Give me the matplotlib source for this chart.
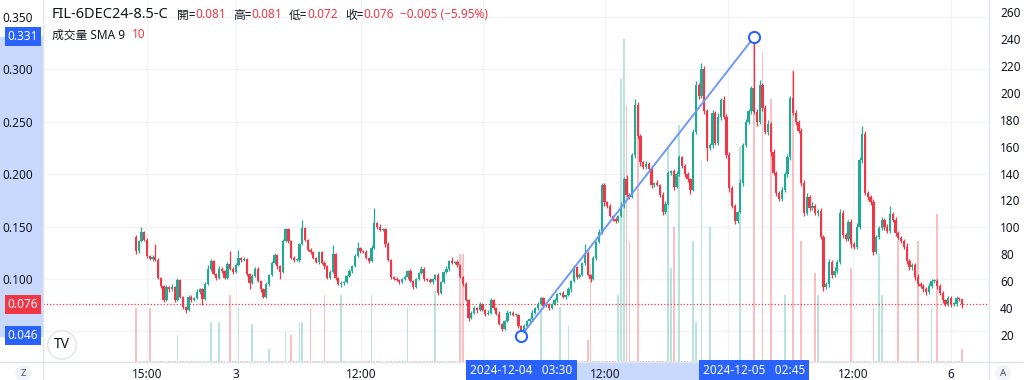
import numpy as np
import matplotlib.pyplot as plt
from matplotlib.lines import Line2D
from matplotlib.patches import Rectangle
from matplotlib.transforms import blended_transform_factory

plt.rcParams['font.family'] = ['Noto Sans', 'Noto Sans CJK TC', 'DejaVu Sans']

# ---- data (prices in thousandths) ----
symbol = 'FIL-6DEC24-8.5-C'
change_text = '\u22120.005 (\u22125.95%)'
vol_title = '成交量 SMA 9'
vol_sma = '10'
range_dates = ['2024-12-04   03:30', '2024-12-05   02:45']
time_labels = ['15:00', '3', '12:00', '', '12:00', '', '12:00', '6']
price_ticks = [0.05, 0.10, 0.15, 0.20, 0.25, 0.30, 0.35]
vol_ticks = [20, 40, 60, 80, 100, 120, 140, 160, 180, 200, 220, 240, 260]

first_open = 140
closes = [
    # 2 Dec afternoon -> 3 Dec
    127, 136, 145, 137, 122, 119, 121, 118, 101, 93,
    80, 92, 90, 92, 80, 99, 83, 73, 70, 83,
    80, 82, 88, 90, 81, 95, 110, 117, 105,
    101, 110, 108, 101, 114, 110, 107, 113, 120, 118,
    119, 105, 96, 103, 110, 98, 90, 83, 95, 104,
    115, 123, 112, 107, 136, 148, 136, 120, 118,
    118, 133, 149, 137, 128, 126, 120, 116, 126,
    115, 112, 101, 107, 124, 101, 95, 96,
    # 3 Dec -> 4 Dec
    97, 103, 108, 112, 122, 130, 127, 126, 120, 117,
    130, 153, 150, 147, 148, 133, 118, 102, 100, 99,
    97, 100, 102, 108, 98, 92, 100, 106, 110, 100,
    99, 97, 100, 104, 87, 97, 107, 110, 117, 115,
    116, 113, 102, 95, 80, 63, 68, 72, 70, 76,
    70, 67, 68, 80, 72, 67, 57, 52, 60, 68,
    68, 66, 66, 55, 50, 55, 60, 62, 68, 72,
    76, 82,
    # 4 Dec
    74, 76, 72, 76, 80, 86, 87, 83, 85, 90,
    98, 111, 102, 104, 115, 125, 104, 100, 120, 135,
    145, 190, 173, 170, 160, 157, 155, 160, 170, 195,
    180, 178, 218, 266, 236, 212, 207, 210, 205, 190,
    192, 190, 180, 164, 172, 201, 203, 188, 200, 216,
    208, 200, 195, 185, 240, 285, 275, 300, 260, 225,
    228, 258, 230, 255, 271, 255, 218, 187, 170, 155,
    164, 192, 228,
    # 5 Dec
    250, 260, 282, 259, 250, 285, 263, 240, 248, 221,
    201, 182, 176, 185, 200, 216, 273, 258, 250, 241,
    192, 163, 178, 168, 170, 163, 165, 140, 92, 95,
    116, 104, 108, 116, 163, 142, 138, 154, 133, 131,
    150, 214, 238, 182, 178, 173, 126, 140, 149, 156,
    150, 146, 162, 156, 144, 139, 136, 131, 117, 111,
    113, 102, 95, 93, 90, 88, 93, 98, 98, 93,
    87, 80, 76, 82, 76, 76, 82, 81, 76,
]
wick_up = [
    2, 1, 5, 1, 2, 1, 2, 12, 2, 1,
    1, 2, 1, 3, 1, 2, 1, 1, 1, 2,
    2, 1, 2, 1, 1, 2, 3, 2, 1,
    1, 2, 1, 1, 2, 13, 1, 2, 8, 1,
    2, 1, 1, 2, 1, 1, 1, 1, 2, 1,
    2, 2, 1, 1, 2, 1, 1, 1, 2,
    2, 1, 7, 1, 1, 2, 1, 1, 1,
    1, 2, 1, 2, 8, 1, 1, 2,
    1, 1, 2, 1, 2, 5, 1, 1, 2, 1,
    2, 15, 1, 2, 1, 1, 2, 1, 1, 2,
    1, 1, 2, 1, 2, 1, 1, 1, 2, 1,
    1, 2, 1, 1, 2, 1, 1, 2, 1, 4,
    1, 2, 1, 1, 2, 1, 1, 2, 1, 2,
    1, 1, 2, 2, 1, 1, 2, 1, 1, 2,
    1, 1, 2, 1, 1, 2, 1, 1, 2, 1,
    2, 1,
    1, 2, 1, 1, 2, 1, 1, 2, 1, 2,
    1, 2, 1, 2, 1, 8, 2, 1, 2, 1,
    3, 2, 2, 1, 2, 1, 2, 1, 3, 2,
    4, 2, 2, 6, 3, 2, 1, 3, 2, 2,
    1, 2, 1, 3, 2, 2, 1, 2, 3, 2,
    1, 2, 2, 1, 3, 4, 2, 6, 3, 2,
    2, 3, 2, 3, 2, 4, 2, 3, 2, 2,
    1, 3, 2,
    3, 2, 2, 49, 3, 5, 2, 3, 4, 2,
    3, 2, 2, 3, 2, 3, 2, 25, 3, 2,
    3, 2, 4, 2, 3, 2, 2, 3, 2, 2,
    3, 2, 3, 2, 4, 3, 2, 2, 3, 2,
    3, 2, 8, 3, 2, 2, 3, 2, 2, 3,
    2, 2, 8, 2, 3, 2, 2, 2, 3, 2,
    2, 2, 3, 2, 2, 2, 3, 2, 2, 2,
    2, 2, 1, 2, 2, 2, 2, 1, 0,
]
wick_dn = [
    3, 2, 1, 1, 2, 1, 2, 1, 1, 2,
    2, 1, 2, 1, 2, 1, 1, 2, 2, 1,
    2, 1, 1, 2, 6, 1, 1, 2, 1,
    2, 1, 2, 1, 1, 1, 2, 1, 1, 2,
    1, 2, 6, 1, 1, 1, 2, 1, 1, 2,
    1, 1, 2, 7, 1, 1, 2, 1, 2,
    1, 2, 1, 1, 1, 2, 1, 1, 2,
    1, 2, 1, 1, 1, 2, 1, 3,
    2, 1, 1, 2, 1, 1, 2, 1, 1, 2,
    1, 1, 2, 1, 1, 2, 1, 2, 1, 1,
    2, 1, 1, 2, 1, 2, 1, 1, 1, 2,
    1, 1, 2, 1, 2, 1, 1, 1, 2, 1,
    1, 2, 1, 2, 1, 3, 1, 1, 2, 1,
    1, 2, 1, 1, 2, 1, 1, 2, 1, 1,
    2, 1, 1, 2, 4, 1, 1, 2, 1, 1,
    2, 1,
    2, 1, 2, 1, 1, 2, 1, 1, 2, 1,
    2, 1, 2, 1, 1, 2, 1, 3, 1, 2,
    1, 2, 3, 2, 1, 2, 2, 1, 1, 2,
    2, 2, 1, 3, 2, 4, 2, 2, 2, 3,
    2, 1, 2, 3, 2, 1, 2, 3, 1, 2,
    2, 3, 2, 4, 1, 2, 3, 2, 3, 12,
    2, 3, 2, 2, 3, 2, 3, 4, 2, 3,
    2, 1, 3,
    2, 2, 3, 2, 4, 2, 3, 2, 3, 4,
    2, 3, 2, 2, 2, 3, 2, 2, 3, 2,
    3, 3, 2, 3, 2, 2, 3, 2, 3, 2,
    3, 3, 2, 2, 2, 3, 2, 2, 3, 2,
    2, 2, 3, 2, 3, 2, 3, 2, 2, 2,
    3, 2, 2, 2, 3, 2, 2, 2, 3, 2,
    2, 3, 2, 2, 2, 3, 2, 2, 2, 3,
    2, 3, 2, 2, 3, 2, 2, 2, 4,
]
volume = [
    40, 1, 1, 1, 1, 40, 1, 1, 1, 1,
    1, 1, 1, 1, 1, 20, 1, 1, 1, 1,
    1, 1, 1, 1, 1, 1, 1, 30, 1,
    1, 30, 1, 1, 1, 50, 1, 1, 40, 1,
    1, 1, 1, 28, 1, 1, 1, 1, 1, 10,
    1, 1, 1, 1, 1, 22, 1, 20, 1,
    1, 30, 30, 1, 1, 40, 1, 1, 1,
    1, 50, 1, 1, 1, 1, 1, 50,
    1, 1, 1, 1, 1, 1, 1, 1, 1, 1,
    50, 1, 1, 1, 1, 1, 1, 1, 1, 1,
    1, 1, 1, 40, 1, 1, 1, 1, 1, 1,
    1, 1, 1, 53, 1, 1, 1, 1, 1, 1,
    1, 1, 80, 80, 1, 1, 1, 1, 1, 1,
    1, 1, 1, 1, 1, 1, 1, 1, 1, 1,
    1, 1, 1, 1, 1, 1, 1, 1, 1, 1,
    1, 40,
    1, 1, 1, 1, 1, 1, 41, 1, 1, 27,
    1, 1, 1, 1, 1, 1, 16, 73, 1, 1,
    1, 1, 1, 1, 1, 1, 1, 50, 210, 240,
    190, 90, 1, 1, 190, 1, 1, 1, 1, 1,
    1, 1, 1, 1, 1, 159, 70, 100, 1, 176,
    1, 1, 1, 1, 90, 30, 1, 150, 1, 1,
    100, 1, 1, 1, 1, 1, 1, 1, 1, 1,
    1, 160, 1,
    1, 1, 1, 236, 1, 1, 230, 1, 1, 195,
    1, 1, 1, 1, 50, 1, 1, 217, 1, 1,
    90, 1, 1, 1, 1, 66, 50, 1, 1, 1,
    1, 1, 1, 1, 1, 1, 1, 1, 70, 1,
    1, 1, 1, 1, 1, 1, 40, 1, 80, 50,
    1, 1, 1, 1, 1, 90, 1, 1, 1, 1,
    1, 1, 90, 1, 1, 1, 1, 40, 1, 110,
    1, 1, 1, 1, 1, 1, 1, 1, 10,
]

# ---- derived OHLC ----
c = np.array(closes) / 1000
o = np.r_[first_open, closes[:-1]] / 1000
hi = np.maximum(o, c) + np.array(wick_up) / 1000
lo = np.minimum(o, c) - np.array(wick_dn) / 1000
up = c >= o
x = np.arange(len(c))

GREEN = '#22ab94'
RED = '#f23645'
BLUE = '#2962ff'
TXT = '#131722'
GRID = '#f0f3fa'
BORDER = '#e0e3eb'

fig = plt.figure(figsize=(10.24, 3.8), dpi=100)
rect = [43 / 1024, 18 / 380, 946 / 1024, 362 / 380]
axv = fig.add_axes(rect)
axp = fig.add_axes(rect, sharex=axv)
axp.patch.set_visible(False)

axp.set_xlim(-33.5, 307.7)
axp.set_ylim(0.0208, 0.3662)
axv.set_ylim(0, 268.9)

# grid
tick_pos = [4.0, 36.1, 81.2, 125.2, 169.2, 213.4, 258.7, 294.0]
for t in tick_pos:
    axv.axvline(t, color=GRID, lw=0.9, zorder=0)
for p in price_ticks:
    axv.plot([0, 1], [p, p], color=GRID, lw=0.9, zorder=0,
             transform=blended_transform_factory(axv.transAxes, axp.transData))

# volume
vcol = [(34/255, 171/255, 148/255, 0.32) if u else (242/255, 54/255, 69/255, 0.32) for u in up]
axv.bar(x, volume, width=0.62, color=vcol, zorder=1)

# candles
ccol = np.where(up, GREEN, RED)
axp.vlines(x, lo, hi, color=ccol, lw=0.9, zorder=3)
axp.bar(x, np.maximum(np.abs(c - o), 0.0007), bottom=np.minimum(o, c),
        width=0.82, color=ccol, zorder=3)

# last price line
axp.axhline(c[-1], color=RED, lw=0.9, ls=(0, (1, 1.6)), zorder=2)

# trend line between low and high
i0, i1 = int(np.argmin(lo)), int(np.argmax(hi))
p0, p1 = lo[i0], hi[i1]
axp.plot([i0, i1], [p0, p1], color='#6f98f7', lw=1.4, zorder=4)
axp.plot([i0, i1], [p0, p1], 'o', ms=8, mfc='white', mec=BLUE, mew=1.5, zorder=5)

# axes styling
for a in (axv, axp):
    for s in a.spines.values():
        s.set_visible(False)
axp.yaxis.tick_left()
axp.set_yticks(price_ticks)
# 0.050 sits under the range label, so it carries no text
axp.set_yticklabels(['' if p < 0.1 else '%.3f' % p for p in price_ticks])
axp.tick_params(axis='y', length=0, pad=7, labelsize=8.5, labelcolor=TXT)
axv.yaxis.tick_right()
axv.set_yticks(vol_ticks)
axv.tick_params(axis='y', length=0, pad=8, labelsize=8.5, labelcolor=TXT)
axv.tick_params(axis='x', length=0, labelbottom=False)
axp.set_xticks(tick_pos)
axp.set_xticklabels(time_labels)
axp.tick_params(axis='x', length=0, pad=4, labelsize=8.5, labelcolor=TXT)
for lab in axp.get_xticklabels():
    if len(lab.get_text()) == 1:
        lab.set_fontweight('bold')

# borders
fig.add_artist(Line2D([0, 1], [18 / 380, 18 / 380], color=BORDER, lw=1))
fig.add_artist(Line2D([43 / 1024, 43 / 1024], [0, 1], color=BORDER, lw=1))
fig.add_artist(Line2D([989 / 1024, 989 / 1024], [0, 1], color=BORDER, lw=1))

# highlighted ranges on the axes
ty = blended_transform_factory(fig.transFigure, axp.transData)
fig.add_artist(Rectangle((0, p0), 42 / 1024, p1 - p0, transform=ty,
                         color='#c9d8fd', zorder=-1))
tx = blended_transform_factory(axp.transData, fig.transFigure)
fig.add_artist(Rectangle((i0, 0), i1 - i0, 17 / 380, transform=tx,
                         color='#c9d8fd', zorder=-1))

box = dict(boxstyle='square,pad=0.25', ec='none')
for p, col in ((p1, BLUE), (p0, BLUE), (c[-1], RED)):
    fig.text(23 / 1024, p, '%.3f' % p, transform=ty, ha='center', va='center',
             fontsize=8.5, color='white', zorder=6, bbox=dict(box, fc=col))
for i, s in zip((i0, i1), range_dates):
    fig.text(i, 9 / 380, s, transform=tx, ha='center', va='center',
             fontsize=8.5, color='white', zorder=6,
             bbox=dict(boxstyle='square,pad=0.35', fc=BLUE, ec='none'))

# corner buttons and logo
for xx, s in ((23, 'Z'), (1003, 'A')):
    fig.text(xx / 1024, 7 / 380, s, ha='center', va='center', fontsize=7,
             color='#50535e', bbox=dict(boxstyle='circle,pad=0.35', fc='#f0f3fa', ec='none'))
fig.text(62 / 1024, 1 - 345 / 380, 'TV', ha='center', va='center', fontsize=10,
         fontweight='bold', color=TXT, zorder=6,
         bbox=dict(boxstyle='circle,pad=0.45', fc='white', ec=BORDER))

# legend text
t = fig.text(52 / 1024, 1 - 15 / 380, symbol, fontsize=10.5, color=TXT, va='center')
pieces = [('開=', TXT, 6), ('%.3f' % o[-1], RED, 0), ('高=', TXT, 5),
          ('%.3f' % hi[-1], RED, 0), ('低=', TXT, 5), ('%.3f' % lo[-1], RED, 0),
          ('收=', TXT, 5), ('%.3f' % c[-1], RED, 0), (change_text, RED, 4)]
for s, col, gap in pieces:
    t = axp.annotate(s, xy=(1, 0.5), xycoords=t, xytext=(gap, 0),
                     textcoords='offset points', va='center', ha='left',
                     fontsize=8.5, color=col, annotation_clip=False)
t = fig.text(52 / 1024, 1 - 35 / 380, vol_title, fontsize=8.5, color=TXT, va='center')
axp.annotate(vol_sma, xy=(1, 0.5), xycoords=t, xytext=(5, 0),
             textcoords='offset points', va='center', ha='left',
             fontsize=8.5, color=RED, annotation_clip=False)

fig.savefig('out.png', dpi=100)
